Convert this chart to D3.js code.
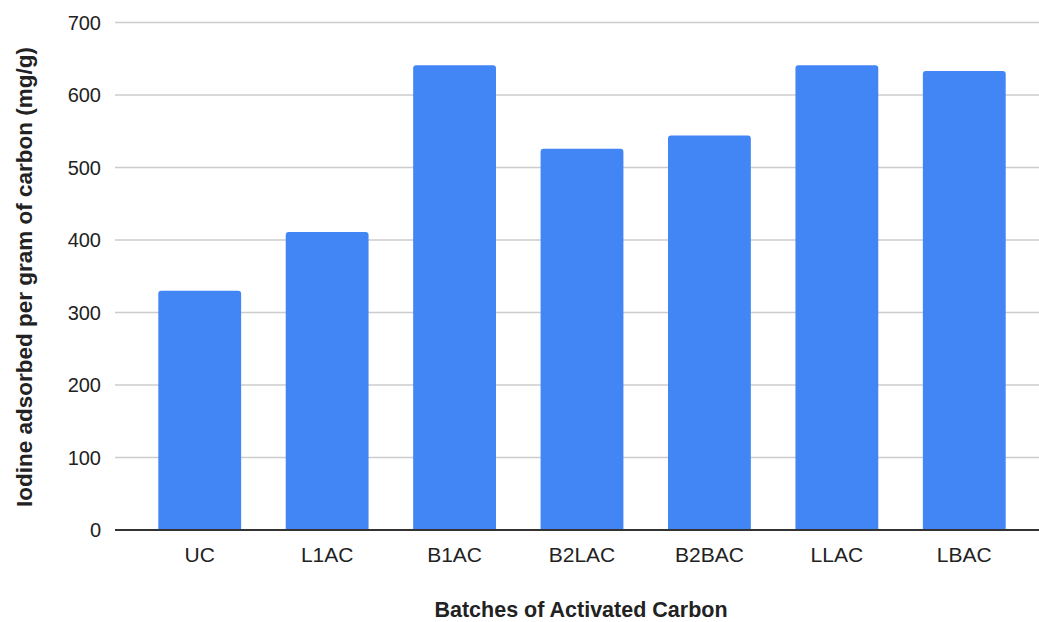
<!DOCTYPE html>
<html>
<head>
<meta charset="utf-8">
<script src="https://cdn.jsdelivr.net/npm/d3@7"></script>
<style>
  body { margin: 0; background: #fff; }
  svg { display: block; font-family: "Liberation Sans", Arial, sans-serif; }
</style>
</head>
<body>
<svg id="chart" width="1039" height="622"></svg>
<script>
// batches and iodine values
const batches = ["UC", "L1AC", "B1AC", "B2LAC", "B2BAC", "LLAC", "LBAC"];
const iodine = [330, 411, 641, 526, 544, 641, 633];
const yTicks = [0, 100, 200, 300, 400, 500, 600, 700];

const data = batches.map((b, i) => ({ batch: b, value: iodine[i] }));

const svg = d3.select("svg#chart");

const gridLeft = 115, gridRight = 1039;

const x = d3.scaleBand()
    .domain(batches)
    .range([136, 1028])
    .paddingInner(0.35)
    .paddingOuter(0.175);

const y = d3.scaleLinear()
    .domain([0, 700])
    .range([530, 22.5]);

// gridlines
svg.append("g")
  .selectAll("line")
  .data(yTicks.filter(t => t > 0))
  .join("line")
  .attr("x1", gridLeft)
  .attr("x2", gridRight)
  .attr("y1", d => y(d))
  .attr("y2", d => y(d))
  .attr("stroke", "#cccccc")
  .attr("stroke-width", 1.3);

// y tick labels
svg.append("g")
  .selectAll("text")
  .data(yTicks)
  .join("text")
  .attr("x", 101)
  .attr("y", d => y(d))
  .attr("dy", "0.36em")
  .attr("text-anchor", "end")
  .attr("font-size", 20)
  .attr("fill", "#222")
  .text(d => d);

// bars with rounded top corners
const r = 3;
svg.append("g")
  .selectAll("path")
  .data(data)
  .join("path")
  .attr("fill", "#4285f4")
  .attr("d", d => {
    const x0 = x(d.batch), w = x.bandwidth();
    const top = y(d.value), base = y(0);
    return `M${x0},${base}V${top + r}Q${x0},${top} ${x0 + r},${top}` +
           `H${x0 + w - r}Q${x0 + w},${top} ${x0 + w},${top + r}V${base}Z`;
  });

// baseline
svg.append("line")
  .attr("x1", gridLeft)
  .attr("x2", gridRight)
  .attr("y1", y(0))
  .attr("y2", y(0))
  .attr("stroke", "#333")
  .attr("stroke-width", 2);

// x labels
svg.append("g")
  .selectAll("text")
  .data(batches)
  .join("text")
  .attr("x", d => x(d) + x.bandwidth() / 2)
  .attr("y", 562)
  .attr("text-anchor", "middle")
  .attr("font-size", 21)
  .attr("fill", "#222")
  .text(d => d);

// axis titles
svg.append("text")
  .attr("x", 581)
  .attr("y", 617)
  .attr("text-anchor", "middle")
  .attr("font-size", 21.5)
  .attr("font-weight", "bold")
  .attr("fill", "#222")
  .text("Batches of Activated Carbon");

svg.append("text")
  .attr("transform", "translate(32,277) rotate(-90)")
  .attr("text-anchor", "middle")
  .attr("font-size", 22.5)
  .attr("font-weight", "bold")
  .attr("fill", "#222")
  .text("Iodine adsorbed per gram of carbon (mg/g)");
</script>
</body>
</html>
